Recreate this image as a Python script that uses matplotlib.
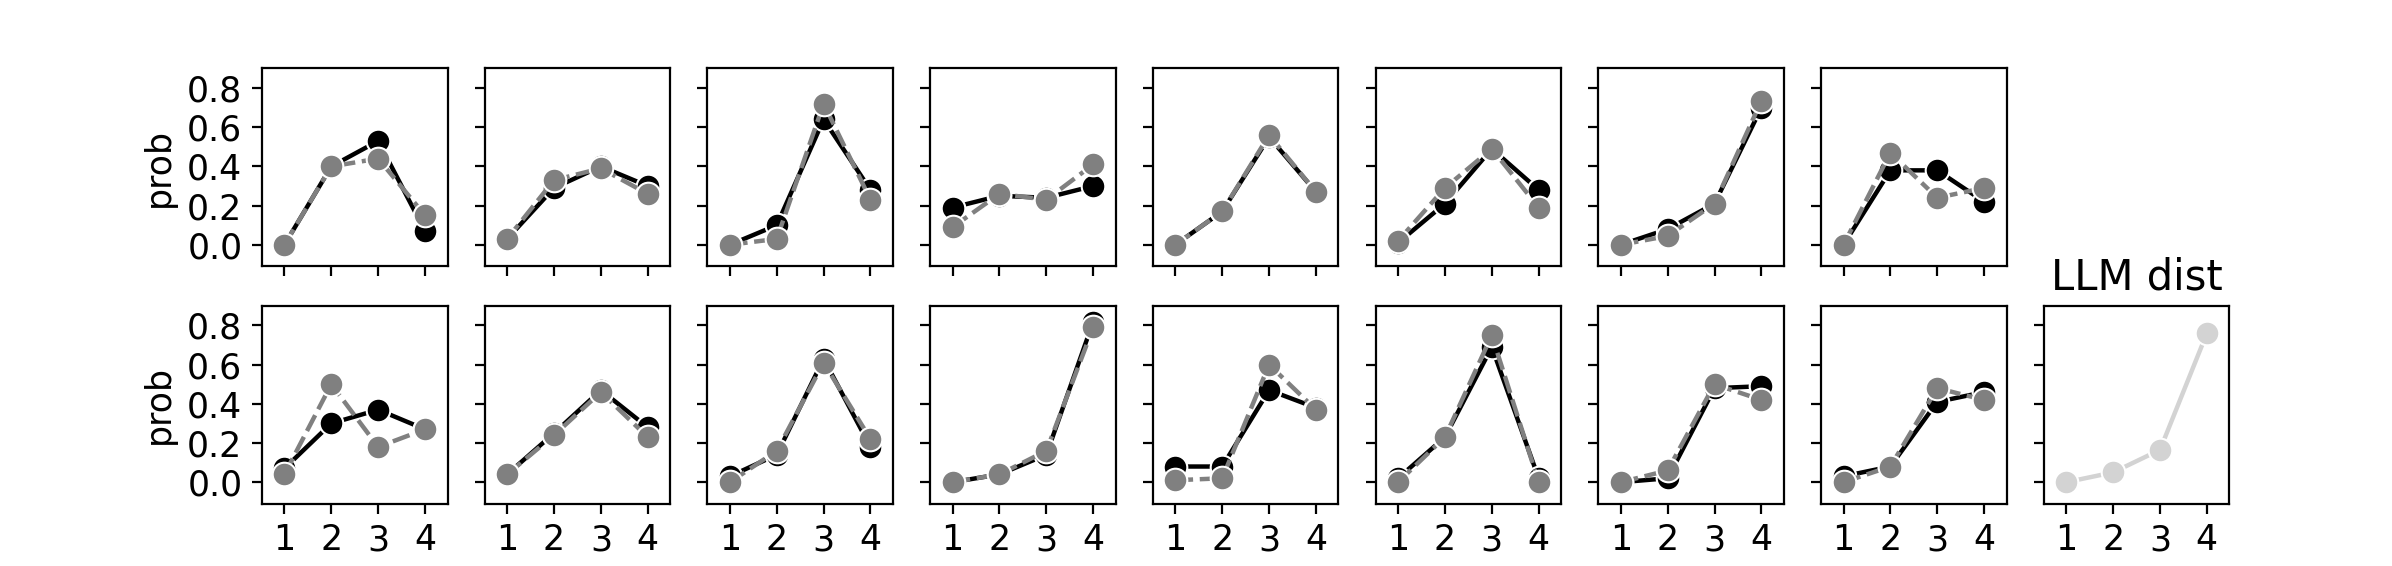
import numpy as np
import matplotlib
matplotlib.use('Agg')
import matplotlib.pyplot as plt

plt.rcParams['font.size'] = 12.5

# answer options on the x axis
options = [1, 2, 3, 4]

# human distribution (solid black) and model distribution (dashed gray), one row per panel
top_black = [
    [0.00, 0.40, 0.53, 0.07],
    [0.03, 0.29, 0.40, 0.30],
    [0.00, 0.10, 0.64, 0.28],
    [0.19, 0.25, 0.24, 0.30],
    [0.00, 0.17, 0.55, 0.27],
    [0.01, 0.21, 0.49, 0.28],
    [0.00, 0.08, 0.21, 0.70],
    [0.00, 0.38, 0.38, 0.22],
]
top_gray = [
    [0.00, 0.40, 0.44, 0.15],
    [0.03, 0.33, 0.39, 0.26],
    [0.00, 0.03, 0.72, 0.23],
    [0.09, 0.26, 0.23, 0.41],
    [0.00, 0.17, 0.56, 0.27],
    [0.02, 0.29, 0.49, 0.19],
    [0.00, 0.045, 0.21, 0.735],
    [0.00, 0.47, 0.24, 0.29],
]
bottom_black = [
    [0.07, 0.30, 0.37, 0.27],
    [0.04, 0.25, 0.47, 0.28],
    [0.03, 0.14, 0.63, 0.18],
    [0.00, 0.04, 0.14, 0.82],
    [0.08, 0.08, 0.47, 0.38],
    [0.02, 0.23, 0.69, 0.02],
    [0.00, 0.02, 0.48, 0.49],
    [0.03, 0.08, 0.41, 0.46],
]
bottom_gray = [
    [0.04, 0.50, 0.18, 0.27],
    [0.04, 0.24, 0.46, 0.23],
    [0.00, 0.16, 0.61, 0.22],
    [0.00, 0.04, 0.16, 0.79],
    [0.01, 0.02, 0.60, 0.37],
    [0.00, 0.23, 0.75, 0.00],
    [0.00, 0.06, 0.50, 0.42],
    [0.00, 0.08, 0.48, 0.42],
]
llm_dist = [0.00, 0.05, 0.165, 0.76]


def draw_pair(ax, black, gray):
    ax.plot(options, black, '-o', color='black', linewidth=1.6,
            markersize=8.5, markeredgecolor='white', markeredgewidth=0.75)
    ax.plot(options, gray, '--o', color='gray', linewidth=1.6, dashes=(4, 1.5),
            markersize=8.5, markeredgecolor='white', markeredgewidth=0.75)


fig, axes = plt.subplots(2, 9, sharex=True, sharey=True, figsize=(11.96, 2.83), dpi=200)
fig.subplots_adjust(left=0.1095, right=0.932, top=0.879, bottom=0.11, wspace=0.2, hspace=0.2)

for i in range(8):
    draw_pair(axes[0, i], top_black[i], top_gray[i])
    draw_pair(axes[1, i], bottom_black[i], bottom_gray[i])

axes[0, 8].axis('off')
axes[1, 8].plot(options, llm_dist, '-o', color='lightgray', linewidth=1.6,
                markersize=8.5, markeredgecolor='white', markeredgewidth=0.75)
axes[1, 8].set_title('LLM dist')

axes[0, 0].set_xlim(0.52, 4.48)
axes[0, 0].set_ylim(-0.11, 0.90)
axes[0, 0].set_xticks(options)
axes[0, 0].set_yticks([0.0, 0.2, 0.4, 0.6, 0.8])
axes[0, 0].set_ylabel('prob')
axes[1, 0].set_ylabel('prob')
for ax in axes[0, :]:
    ax.tick_params(labelbottom=False)

fig.savefig('out.png', dpi=200)
